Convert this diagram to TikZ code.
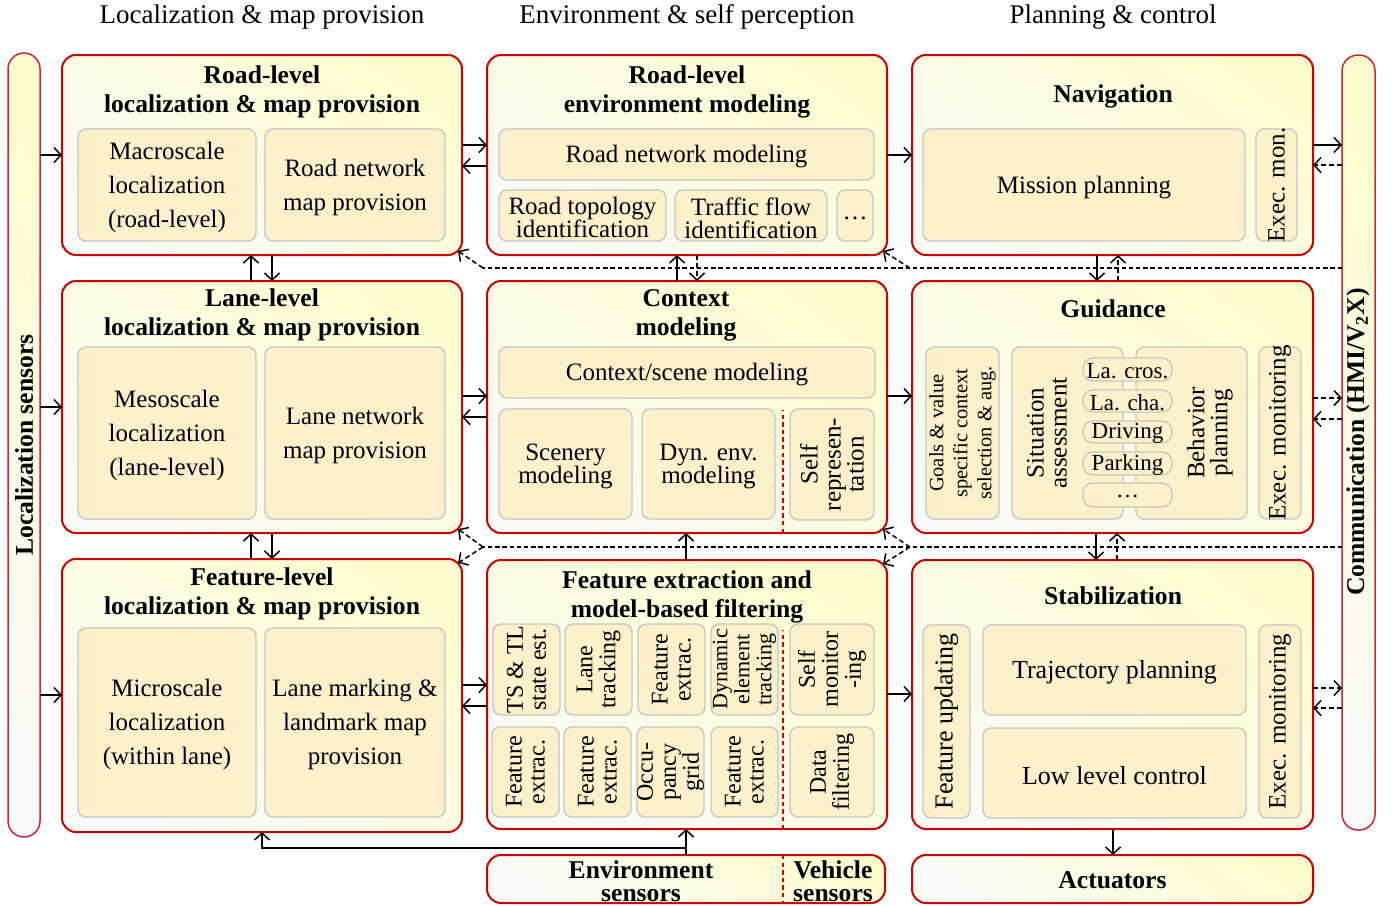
\documentclass[tikz,border=0pt]{standalone}
\usepackage{fontspec}
\setmainfont{Liberation Serif}
\usetikzlibrary{fit,arrows.meta}
\newcommand\fsz[2]{\fontsize{#1}{#2}\selectfont}
\definecolor{bred}{HTML}{CC0000}
\definecolor{sred}{HTML}{C8283C}
\definecolor{ifill}{HTML}{FCF1CA}
\definecolor{idraw}{HTML}{C6C6C6}
\definecolor{gylw}{HTML}{FFFDD0}
\definecolor{gwht}{HTML}{FAFAF6}
\begin{document}
\begin{tikzpicture}[x=0.5pt,y=-0.5pt,
  outerbox/.style={draw=bred, line width=1pt, rounded corners=7pt, bottom color=gwht, top color=gylw, shading angle=-35, inner sep=0pt, outer sep=0pt},
  sidebar/.style={draw=sred, line width=0.75pt, rounded corners=8pt, bottom color=gwht, top color=gylw, shading angle=-60, inner sep=0pt, outer sep=0pt},
  ibox/.style={draw=idraw, line width=0.7pt, fill=ifill, rounded corners=4pt, inner sep=0pt, outer sep=0pt},
  pill/.style={ibox, rounded corners=5pt},
  itxt/.style={align=center, font=\fsz{12.5}{17}, inner sep=0pt, yshift=-1.2pt},
  ptxt/.style={font=\fsz{11.5}{12}, inner sep=0pt, yshift=-0.8pt},
  ttl/.style={align=center, font=\bfseries\fsz{12.8}{14.5}, inner sep=0pt, yshift=-0.8pt},
  hdr/.style={font=\fsz{13.5}{16}, inner sep=0pt},
  rtxt/.style={rotate=90, align=center, font=\fsz{12.5}{11.5}, inner sep=0pt},
  tight/.style={font=\fsz{12.5}{11.5}},
  arr/.style={line width=0.75pt, -{Straight Barb[length=3.5pt,width=7.5pt]}},
  darr/.style={arr, dash pattern=on 2.5pt off 1.5pt},
  dline/.style={line width=0.65pt, dash pattern=on 2.2pt off 1.4pt},
  sep/.style={draw=red!85!black, line width=0.6pt, dash pattern=on 2.2pt off 1.6pt},
]
\useasboundingbox (0,0) rectangle (1395,905);

% headers
\node[hdr] (h1) at (262,17) {Localization \& map provision};
\node[hdr] (h2) at (687,17) {Environment \& self perception};
\node[hdr] (h3) at (1113,17) {Planning \& control};

% side bars
\node[sidebar, fit={(8,53)(40,837)}] (L) {};
\node[rotate=90, font=\bfseries\fsz{12.8}{14}, inner sep=0pt] (Lt) at (L.center) {Localization sensors};
\node[sidebar, fit={(1342,55)(1375,830)}] (R) {};
\node[rotate=90, font=\bfseries\fsz{12.8}{14}, inner sep=0pt] (Rt) at (1358,442) {Communication (HMI/V\textsubscript{2}X)};

% ---------- column 1 ----------
\node[outerbox, fit={(62,55)(462,255)}] (A1) {};
\node[ttl] (A1t) at (262,90) {Road-level\\localization \& map provision};
\node[ibox, fit={(78,129)(256,241)}] (mac) {};
\node[itxt] (mac-t) at (mac.center) {Macroscale\\localization\\(road-level)};
\node[ibox, fit={(265,129)(445,241)}] (rnm) {};
\node[itxt] (rnm-t) at (rnm.center) {Road network\\map provision};

\node[outerbox, fit={(62,281)(462,533)}] (A2) {};
\node[ttl] (A2t) at (262,313) {Lane-level\\localization \& map provision};
\node[ibox, fit={(78,347)(256,519)}] (meso) {};
\node[itxt] (meso-t) at (meso.center) {Mesoscale\\localization\\(lane-level)};
\node[ibox, fit={(265,347)(445,519)}] (lnm) {};
\node[itxt] (lnm-t) at (lnm.center) {Lane network\\map provision};

\node[outerbox, fit={(62,559)(462,832)}] (A3) {};
\node[ttl] (A3t) at (262,592) {Feature-level\\localization \& map provision};
\node[ibox, fit={(78,628)(256,817)}] (micro) {};
\node[itxt] (micro-t) at (micro.center) {Microscale\\localization\\(within lane)};
\node[ibox, fit={(265,628)(445,817)}] (lmm) {};
\node[itxt] (lmm-t) at (lmm.center) {Lane marking \&\\landmark map\\provision};

% ---------- column 2 ----------
\node[outerbox, fit={(487,55)(887,255)}] (B1) {};
\node[ttl] (B1t) at (687,90) {Road-level\\environment modeling};
\node[ibox, fit={(499,129)(874,180)}] (rnmod) {};
\node[itxt] (rnmod-t) at (rnmod.center) {Road network modeling};
\node[ibox, fit={(499,190)(666,241)}] (topo) {};
\node[itxt, tight] (topo-t) at (topo.center) {Road topology\\identification};
\node[ibox, fit={(675,190)(827,241)}] (tflow) {};
\node[itxt, tight] (tflow-t) at (tflow.center) {Traffic flow\\identification};
\node[ibox, fit={(837,190)(873,241)}] (dots1) {};
\node[itxt] (dots1-t) at (dots1.center) {\ldots};

\node[outerbox, fit={(487,281)(887,533)}] (B2) {};
\node[ttl] (B2t) at (686,314) {Context\\modeling};
\node[ibox, fit={(499,347)(875,398)}] (csm) {};
\node[itxt] (csm-t) at (csm.center) {Context/scene modeling};
\node[ibox, fit={(499,409)(632,519)}] (scen) {};
\node[itxt, tight] (scen-t) at (scen.center) {Scenery\\modeling};
\node[ibox, fit={(642,409)(775,519)}] (dyn) {};
\node[itxt, tight] (dyn-t) at (dyn.center) {Dyn. env.\\modeling};
\node[ibox, fit={(790,409)(874,520)}] (selfr) {};
\node[rtxt] (selfr-t) at (selfr.center) {Self\\represen-\\tation};
\draw[sep] (B2.south -| 783,0) -- (783,410);

\node[outerbox, fit={(487,560)(887,829)}] (B3) {};
\node[ttl] (B3t) at (687,595) {Feature extraction and\\model-based filtering};
\node[ibox, fit={(493,624)(560,715)}] (ts) {};
\node[rtxt, font=\fsz{12}{11.5}] (ts-t) at (ts.center) {TS \& TL\\state est.};
\node[ibox, fit={(565,624)(632,715)}] (lt) {};
\node[rtxt, font=\fsz{12}{11.5}] (lt-t) at (lt.center) {Lane\\tracking};
\node[ibox, fit={(638,624)(705,715)}] (fe1) {};
\node[rtxt, font=\fsz{12}{11.5}] (fe1-t) at (fe1.center) {Feature\\extrac.};
\node[ibox, fit={(711,624)(778,715)}] (det) {};
\node[rtxt, font=\fsz{11}{11}] (det-t) at (det.center) {Dynamic\\element\\tracking};
\node[ibox, fit={(790,624)(874,715)}] (sm) {};
\node[rtxt, font=\fsz{12}{11.5}] (sm-t) at (sm.center) {Self\\monitor\\-ing};
\node[ibox, fit={(492,727)(559,817)}] (fe2) {};
\node[rtxt, font=\fsz{12}{11.5}] (fe2-t) at (fe2.center) {Feature\\extrac.};
\node[ibox, fit={(564,727)(631,817)}] (fe3) {};
\node[rtxt, font=\fsz{12}{11.5}] (fe3-t) at (fe3.center) {Feature\\extrac.};
\node[ibox, fit={(637,727)(704,817)}] (occ) {};
\node[rtxt, font=\fsz{12}{11.5}] (occ-t) at (occ.center) {Occu-\\pancy\\grid};
\node[ibox, fit={(711,727)(778,817)}] (fe4) {};
\node[rtxt, font=\fsz{12}{11.5}] (fe4-t) at (fe4.center) {Feature\\extrac.};
\node[ibox, fit={(790,727)(874,817)}] (df) {};
\node[rtxt, font=\fsz{12}{11.5}] (df-t) at (df.center) {Data\\filtering};
\draw[sep] (B3.south -| 783,0) -- (783,630);

\node[outerbox, fit={(487,855)(885,903)}] (S) {};
\node[ttl, font=\bfseries\fsz{12.8}{11.5}] (St1) at (641,880) {Environment\\sensors};
\node[ttl, font=\bfseries\fsz{12.8}{11.5}] (St2) at (833,880) {Vehicle\\sensors};
\draw[sep] (S.north -| 783,0) -- (S.south -| 783,0);

% ---------- column 3 ----------
\node[outerbox, fit={(912,55)(1313,255)}] (C1) {};
\node[ttl] (C1t) at (1113,95) {Navigation};
\node[ibox, fit={(923,129)(1245,241)}] (mp) {};
\node[itxt] (mp-t) at (mp.center) {Mission planning};
\node[ibox, fit={(1256,129)(1297,241)}] (em1) {};
\node[rtxt] (em1-t) at (em1.center) {Exec. mon.};

\node[outerbox, fit={(912,281)(1313,533)}] (C2) {};
\node[ttl] (C2t) at (1113,307) {Guidance};
\node[ibox, fit={(926,347)(999,519)}] (goals) {};
\node[rtxt, font=\fsz{10.2}{12}] (goals-t) at (goals.center) {Goals \& value\\specific context\\selection \& aug.};
\node[ibox, fit={(1012,347)(1123,519)}] (sa) {};
\node[rtxt] (sa-t) at (1047,433) {Situation\\assessment};
\node[ibox, fit={(1136,347)(1247,519)}] (bp) {};
\node[rtxt] (bp-t) at (1210,433) {Behavior\\planning};
\node[pill, fit={(1083,358)(1172,381)}] (p1) {};
\node[ptxt] (p1-t) at (p1.center) {La. cros.};
\node[pill, fit={(1083,390)(1172,412)}] (p2) {};
\node[ptxt] (p2-t) at (p2.center) {La. cha.};
\node[pill, fit={(1083,421)(1172,443)}] (p3) {};
\node[ptxt] (p3-t) at (p3.center) {Driving};
\node[pill, fit={(1083,452)(1172,475)}] (p4) {};
\node[ptxt] (p4-t) at (p4.center) {Parking};
\node[pill, fit={(1083,483)(1172,507)}] (p5) {};
\node[ptxt] (p5-t) at (p5.center) {\ldots};
\node[ibox, fit={(1259,347)(1301,519)}] (em2) {};
\node[rtxt] (em2-t) at (em2.center) {Exec. monitoring};

\node[outerbox, fit={(912,560)(1313,829)}] (C3) {};
\node[ttl] (C3t) at (1113,594) {Stabilization};
\node[ibox, fit={(923,625)(970,818)}] (fu) {};
\node[rtxt, font=\fsz{13}{13}] (fu-t) at (fu.center) {Feature updating};
\node[ibox, fit={(983,625)(1246,715)}] (tp) {};
\node[itxt, font=\fsz{13}{17}] (tp-t) at (tp.center) {Trajectory planning};
\node[ibox, fit={(983,728)(1246,818)}] (llc) {};
\node[itxt, font=\fsz{13}{17}] (llc-t) at (llc.center) {Low level control};
\node[ibox, fit={(1259,625)(1301,818)}] (em3) {};
\node[rtxt] (em3-t) at (em3.center) {Exec. monitoring};

\node[outerbox, fit={(912,855)(1313,903)}] (Act) {};
\node[ttl] (Actt) at (Act.center) {Actuators};

% ---------- connectors ----------
\foreach \n/\y in {A1/155, A2/407, A3/695}
  \draw[arr] (L.east |- 0,\y) -- (\n.west |- 0,\y);

\draw[arr] (A1.east |- 0,145) -- (B1.west |- 0,145);
\draw[arr] (B1.west |- 0,166) -- (A1.east |- 0,166);
\draw[arr] (A2.east |- 0,396) -- (B2.west |- 0,396);
\draw[arr] (B2.west |- 0,417) -- (A2.east |- 0,417);
\draw[arr] (A3.east |- 0,685) -- (B3.west |- 0,685);
\draw[arr] (B3.west |- 0,706) -- (A3.east |- 0,706);

\draw[arr] (B1.east |- 0,155) -- (C1.west |- 0,155);
\draw[arr] (B2.east |- 0,396) -- (C2.west |- 0,396);
\draw[arr] (B3.east |- 0,694) -- (C3.west |- 0,694);

\draw[arr] (C1.east |- 0,145) -- (R.west |- 0,145);
\draw[darr] (R.west |- 0,165) -- (C1.east |- 0,165);
\draw[darr] (C2.east |- 0,398) -- (R.west |- 0,398);
\draw[darr] (R.west |- 0,419) -- (C2.east |- 0,419);
\draw[darr] (C3.east |- 0,688) -- (R.west |- 0,688);
\draw[darr] (R.west |- 0,708) -- (C3.east |- 0,708);

\draw[arr] (A2.north -| 251,0) -- (A1.south -| 251,0);
\draw[arr] (A1.south -| 272,0) -- (A2.north -| 272,0);
\draw[arr] (A3.north -| 251,0) -- (A2.south -| 251,0);
\draw[arr] (A2.south -| 272,0) -- (A3.north -| 272,0);

\draw[arr] (B2.north -| 677,0) -- (B1.south -| 677,0);
\draw[darr] (B1.south -| 697,0) -- (B2.north -| 697,0);
\draw[arr] (B3.north -| 686,0) -- (B2.south -| 686,0);

\draw[arr] (C1.south -| 1097,0) -- (C2.north -| 1097,0);
\draw[darr] (C2.north -| 1118,0) -- (C1.south -| 1118,0);
\draw[arr] (C2.south -| 1096,0) -- (C3.north -| 1096,0);
\draw[darr] (C3.north -| 1117,0) -- (C2.south -| 1117,0);
\draw[arr] (C3.south -| 1113,0) -- (Act.north -| 1113,0);

\draw[arr] (S.north -| 686,0) -- (B3.south -| 686,0);
\coordinate (sj) at (686,848);
\draw[arr] (sj) -| (A3.south -| 262,0);

% dashed distribution lines
\coordinate (j1) at (483,268);
\coordinate (j2) at (910,268);
\coordinate (j3) at (483,547);
\coordinate (j4) at (910,547);
\draw[dline] (R.west |- j1) -- (j1);
\draw[dline] (R.west |- j3) -- (j3);
\draw[darr] (j1) -- ([xshift=-2pt,yshift=2pt]A1.south east);
\draw[darr] (j2) -- ([xshift=-2pt,yshift=2pt]B1.south east);
\draw[darr] (j3) -- ([xshift=-2pt,yshift=2pt]A2.south east);
\draw[darr] (j3) -- ([xshift=-2pt,yshift=-2pt]A3.north east);
\draw[darr] (j4) -- ([xshift=-2pt,yshift=2pt]B2.south east);
\draw[darr] (j4) -- ([xshift=-2pt,yshift=-2pt]B3.north east);
\end{tikzpicture}
\end{document}
